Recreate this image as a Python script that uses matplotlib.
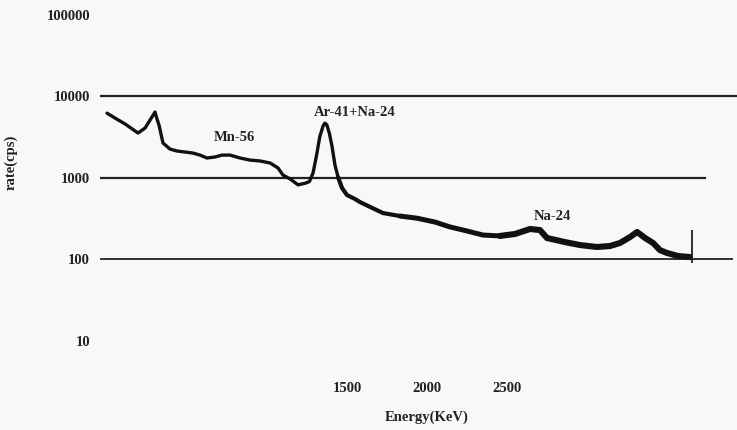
import matplotlib
matplotlib.use("Agg")
import matplotlib.pyplot as plt
import numpy as np

# Spectrum (energy in keV, rate in cps)
energy = [0, 50, 113, 194, 238, 269, 300, 312, 325, 350, 394, 438, 488, 538, 581,
          625, 675, 719, 769, 831, 894, 956, 1019, 1069, 1100, 1144, 1194, 1240,
          1265, 1288, 1310, 1330, 1350, 1362, 1374, 1390, 1406, 1425, 1444, 1469,
          1500, 1550, 1581, 1644, 1725, 1831, 1938, 2050, 2144, 2250, 2350, 2456,
          2550, 2644, 2706, 2750, 2863, 2956, 3063, 3144, 3206, 3269, 3313, 3363,
          3413, 3456, 3500, 3569, 3644]
rate = [6200, 5400, 4570, 3540, 4080, 5100, 6400, 5300, 4440, 2670, 2250, 2130,
        2070, 2010, 1900, 1750, 1800, 1900, 1900, 1750, 1650, 1610, 1520, 1320,
        1080, 970, 820, 860, 900, 1150, 1900, 3200, 4300, 4680, 4450, 3500, 2450,
        1430, 1020, 750, 615, 550, 505, 440, 370, 340, 320, 287, 250, 223, 199,
        194, 205, 236, 229, 183, 163, 150, 142, 146, 159, 188, 217, 183, 159, 130,
        120, 110, 107]

end_marker_energy = 3656
end_marker_rate = [90, 230]

y_ticks = [10, 100, 1000, 10000, 100000]
y_tick_labels = ["10", "100", "1000", "10000", "100000"]
x_ticks = [1500, 2000, 2500]
x_tick_labels = ["1500", "2000", "2500"]

peak_labels = ["Mn-56", "Ar-41+Na-24", "Na-24"]
peak_label_energy = [794, 1550, 2781]
peak_label_rate = [3160, 6310, 340]

plt.rcParams['font.family'] = ['Liberation Serif', 'DejaVu Serif']

fig = plt.figure(figsize=(7.37, 4.30), dpi=100)
fig.patch.set_facecolor('#f8f8f8')
ax = fig.add_axes([100/737, 80/430, 637/737, 345/430])
ax.set_facecolor('#f8f8f8')

ax.set_yscale('log')
ax.set_ylim(10**0.89, 10**5.118)
ax.set_xlim(-43.75, 3937.5)

# horizontal grid lines
ax.axhline(10000, xmin=0, xmax=1.0, color='#222222', lw=1.6, zorder=1)
ax.axhline(1000, xmin=0, xmax=0.95, color='#222222', lw=1.6, zorder=1)
ax.axhline(100, xmin=0, xmax=0.992, color='#333333', lw=1.4, zorder=1)

e = np.array(energy)
r = np.array(rate)
# the spectrum gets noisier (thicker trace) towards higher energy
segments = [(0, 1480, 2.4), (1440, 1900, 3.0), (1800, 2500, 3.6), (2400, 4000, 4.4)]
for lo, hi, lw in segments:
    m = (e >= lo) & (e <= hi)
    ax.plot(e[m], r[m], color='#111111', lw=lw, solid_joinstyle='round',
            solid_capstyle='round', zorder=3)
ax.vlines(end_marker_energy, end_marker_rate[0], end_marker_rate[1],
          color='#222222', lw=1.3, zorder=4)

for name, xe, yr in zip(peak_labels, peak_label_energy, peak_label_rate):
    ax.text(xe, yr, name, ha='center', va='center', fontsize=10.5,
            fontweight='bold', color='#222222')

ax.set_yticks(y_ticks)
ax.set_yticklabels(y_tick_labels)
ax.yaxis.set_minor_locator(matplotlib.ticker.NullLocator())
ax.set_xticks(x_ticks)
ax.set_xticklabels(x_tick_labels)
ax.tick_params(axis='y', length=0, pad=7.2, labelsize=10.5, labelcolor='#222222')
ax.tick_params(axis='x', length=0, pad=23, labelsize=10.5, labelcolor='#222222')
for lbl in ax.get_xticklabels() + ax.get_yticklabels():
    lbl.set_fontweight('bold')

for s in ax.spines.values():
    s.set_visible(False)

ax.set_xlabel("Energy(KeV)", fontsize=10.5, fontweight='bold', color='#222222')
ax.xaxis.set_label_coords((427-100)/637, (350-411)/345)
ax.set_ylabel("rate(cps)", fontsize=10.5, fontweight='bold', color='#222222')
ax.yaxis.set_label_coords((18-100)/637, (350-162)/345)

fig.savefig("out.png", dpi=100, facecolor=fig.get_facecolor())
